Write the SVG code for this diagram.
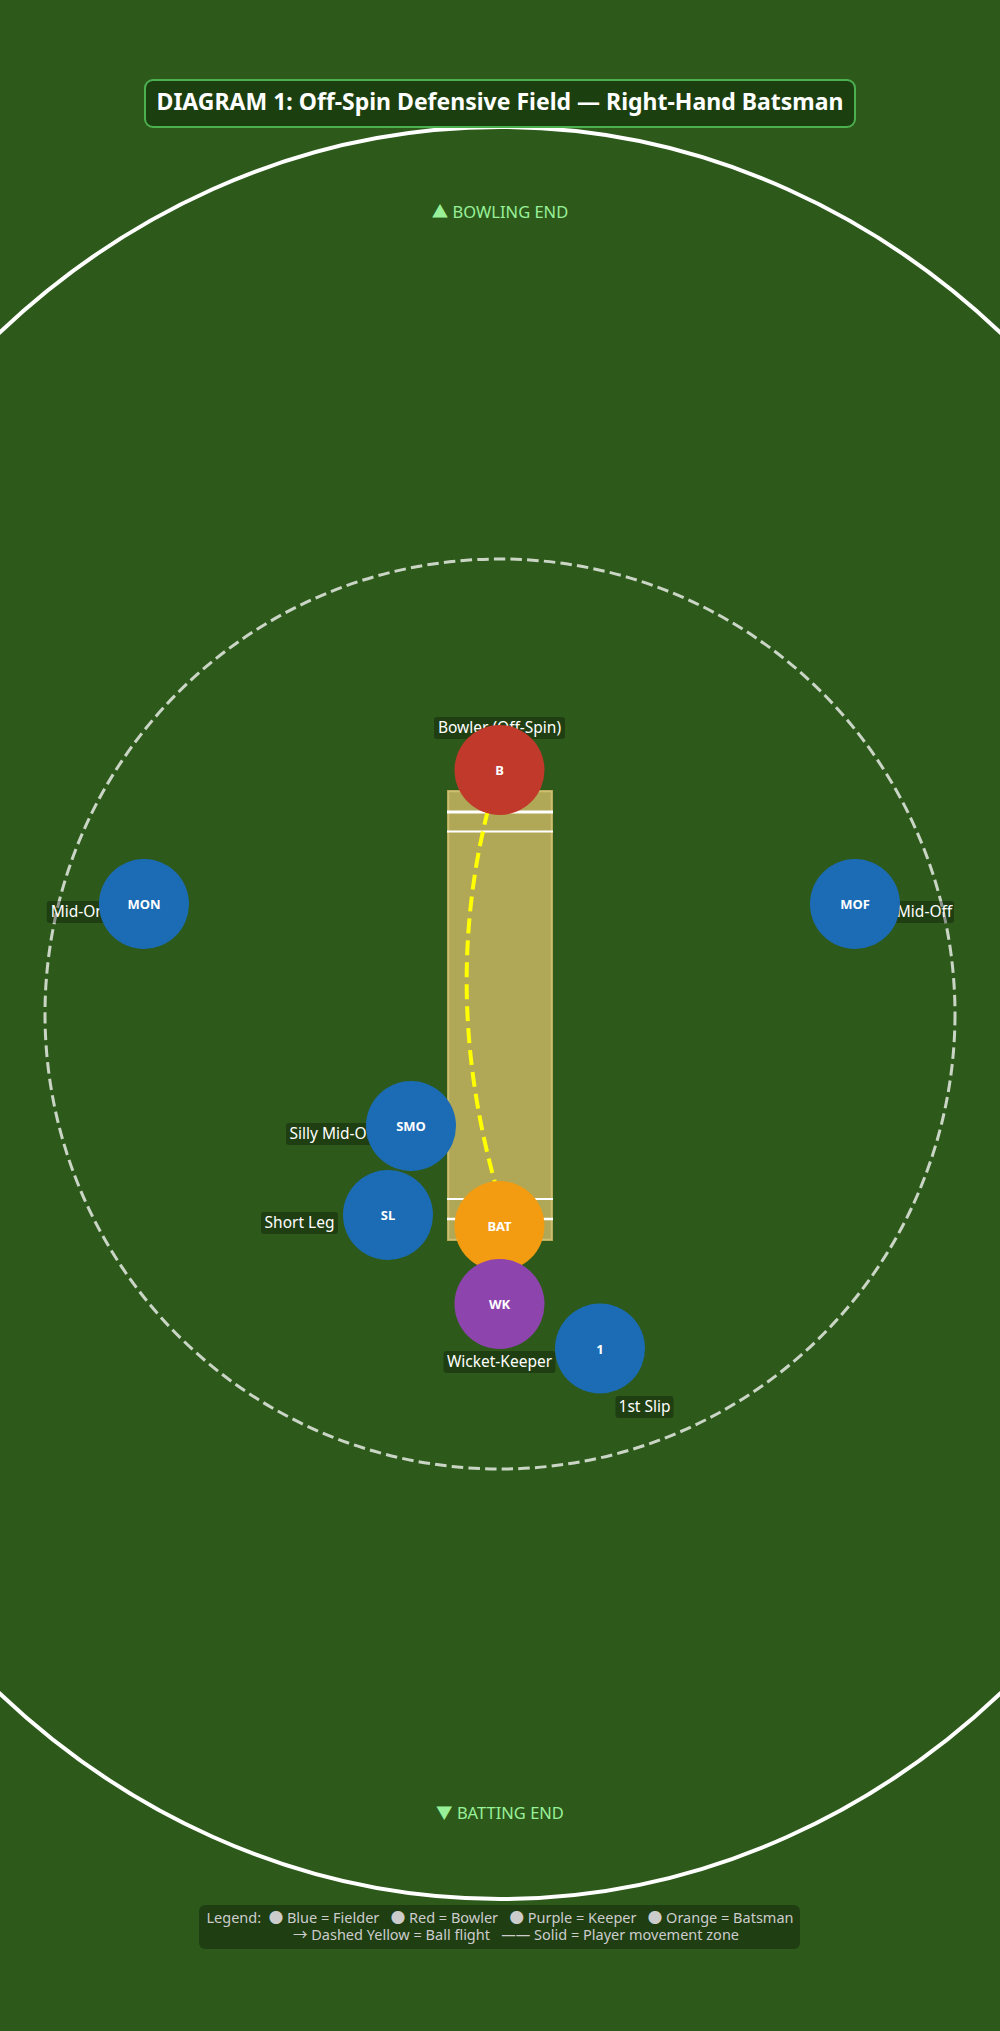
<svg xmlns="http://www.w3.org/2000/svg" width="1000" height="2031" viewBox="0 0 1000 2031">
<style>
text{font-family:"Noto Sans","Noto Sans CJK SC","DejaVu Sans",sans-serif}
.lblbox{fill:rgba(0,0,0,0.3)}
.lbl{font-size:15.5px;fill:#ffffff}
.nid{font-size:13px;font-weight:bold;fill:#ffffff;text-anchor:middle;dominant-baseline:central}
.fielder{fill:#1b6bb5}
.bowler{fill:#c0392b}
.keeper{fill:#8e44ad}
.batsman{fill:#f39c12}
.crease{stroke:#ffffff}
.endlbl{font-size:16.5px;fill:#98f098;text-anchor:middle}
.legend{font-size:14.5px;fill:#cccccc;text-anchor:middle}
</style>
<rect x="0" y="0" width="1000" height="2031" fill="#2d5a1b"/>
<g id="field">
<ellipse cx="500" cy="1013" rx="781" ry="886" fill="none" stroke="#ffffff" stroke-width="4"/>
<circle cx="500" cy="1014" r="455" fill="none" stroke="rgba(255,255,255,0.75)" stroke-width="3" stroke-dasharray="11.5 5.2"/>
</g>
<g id="pitch">
<rect x="447" y="790" width="106" height="451" fill="#b0a856"/>
<rect x="448.5" y="791.5" width="103" height="448" fill="none" stroke="#cdbf72" stroke-width="1.5"/>
<line class="crease" x1="447" y1="812" x2="553" y2="812" stroke-width="3"/>
<line class="crease" x1="447" y1="831.5" x2="553" y2="831.5" stroke-width="2"/>
<line class="crease" x1="447" y1="1199" x2="553" y2="1199" stroke-width="2"/>
<line class="crease" x1="447" y1="1219" x2="553" y2="1219" stroke-width="2.5"/>
</g>
<g id="connectors">
<path id="ball-flight" d="M 488 810 Q 440 1000 500 1200" fill="none" stroke="#ffff00" stroke-width="4" stroke-dasharray="15 7"/>
</g>
<g id="node-B">
<rect class="lblbox" x="434" y="717" width="131" height="22" rx="3"/>
<text class="lbl" x="499.5" y="733" text-anchor="middle">Bowler (Off-Spin)</text>
<circle class="bowler" cx="499.5" cy="770" r="45"/>
<text class="nid" x="499.5" y="770">B</text>
</g>
<g id="node-MON">
<rect class="lblbox" x="46.7" y="901" width="62" height="22" rx="3"/>
<text class="lbl" x="50.7" y="917">Mid-On</text>
<circle class="fielder" cx="144" cy="904" r="45"/>
<text class="nid" x="144" y="904">MON</text>
</g>
<g id="node-MOF">
<rect class="lblbox" x="895" y="901" width="59" height="22" rx="3"/>
<text class="lbl" x="924.5" y="917" text-anchor="middle">Mid-Off</text>
<circle class="fielder" cx="855" cy="904" r="45"/>
<text class="nid" x="855" y="904">MOF</text>
</g>
<g id="node-SMO">
<rect class="lblbox" x="286" y="1123" width="92" height="22" rx="3"/>
<text class="lbl" x="289.5" y="1139">Silly Mid-On</text>
<circle class="fielder" cx="411" cy="1126" r="45"/>
<text class="nid" x="411" y="1126">SMO</text>
</g>
<g id="node-SL">
<rect class="lblbox" x="261" y="1212" width="77" height="22" rx="3"/>
<text class="lbl" x="299.5" y="1228" text-anchor="middle">Short Leg</text>
<circle class="fielder" cx="388" cy="1215" r="45"/>
<text class="nid" x="388" y="1215">SL</text>
</g>
<g id="node-BAT">
<circle class="batsman" cx="499.5" cy="1226" r="45"/>
<text class="nid" x="499.5" y="1226">BAT</text>
</g>
<g id="node-WK">
<rect class="lblbox" x="443.5" y="1351" width="112" height="22" rx="3"/>
<text class="lbl" x="499.5" y="1367" text-anchor="middle">Wicket-Keeper</text>
<circle class="keeper" cx="499.5" cy="1304" r="45"/>
<text class="nid" x="499.5" y="1304">WK</text>
</g>
<g id="node-1">
<rect class="lblbox" x="615.5" y="1396" width="58" height="22" rx="3"/>
<text class="lbl" x="644.5" y="1412" text-anchor="middle">1st Slip</text>
<circle class="fielder" cx="600" cy="1348.5" r="45"/>
<text class="nid" x="600" y="1348.5">1</text>
</g>
<g id="title">
<rect x="145" y="80" width="710" height="47" rx="8" fill="#1c3f0f" stroke="#4caf50" stroke-width="2"/>
<text x="500" y="110" text-anchor="middle" font-size="23" font-weight="bold" fill="#ffffff">DIAGRAM 1: Off-Spin Defensive Field — Right-Hand Batsman</text>
</g>
<g id="end-labels">
<text class="endlbl" x="500" y="218">▲ BOWLING END</text>
<text class="endlbl" x="500" y="1819">▼ BATTING END</text>
</g>
<g id="legend">
<rect x="199" y="1905" width="601" height="44" rx="6" fill="rgba(0,0,0,0.3)"/>
<text class="legend" x="500" y="1923" xml:space="preserve">Legend:  ● Blue = Fielder   ● Red = Bowler   ● Purple = Keeper   ● Orange = Batsman</text>
<text class="legend" x="516" y="1940" xml:space="preserve">→ Dashed Yellow = Ball flight   —— Solid = Player movement zone</text>
</g>
</svg>
